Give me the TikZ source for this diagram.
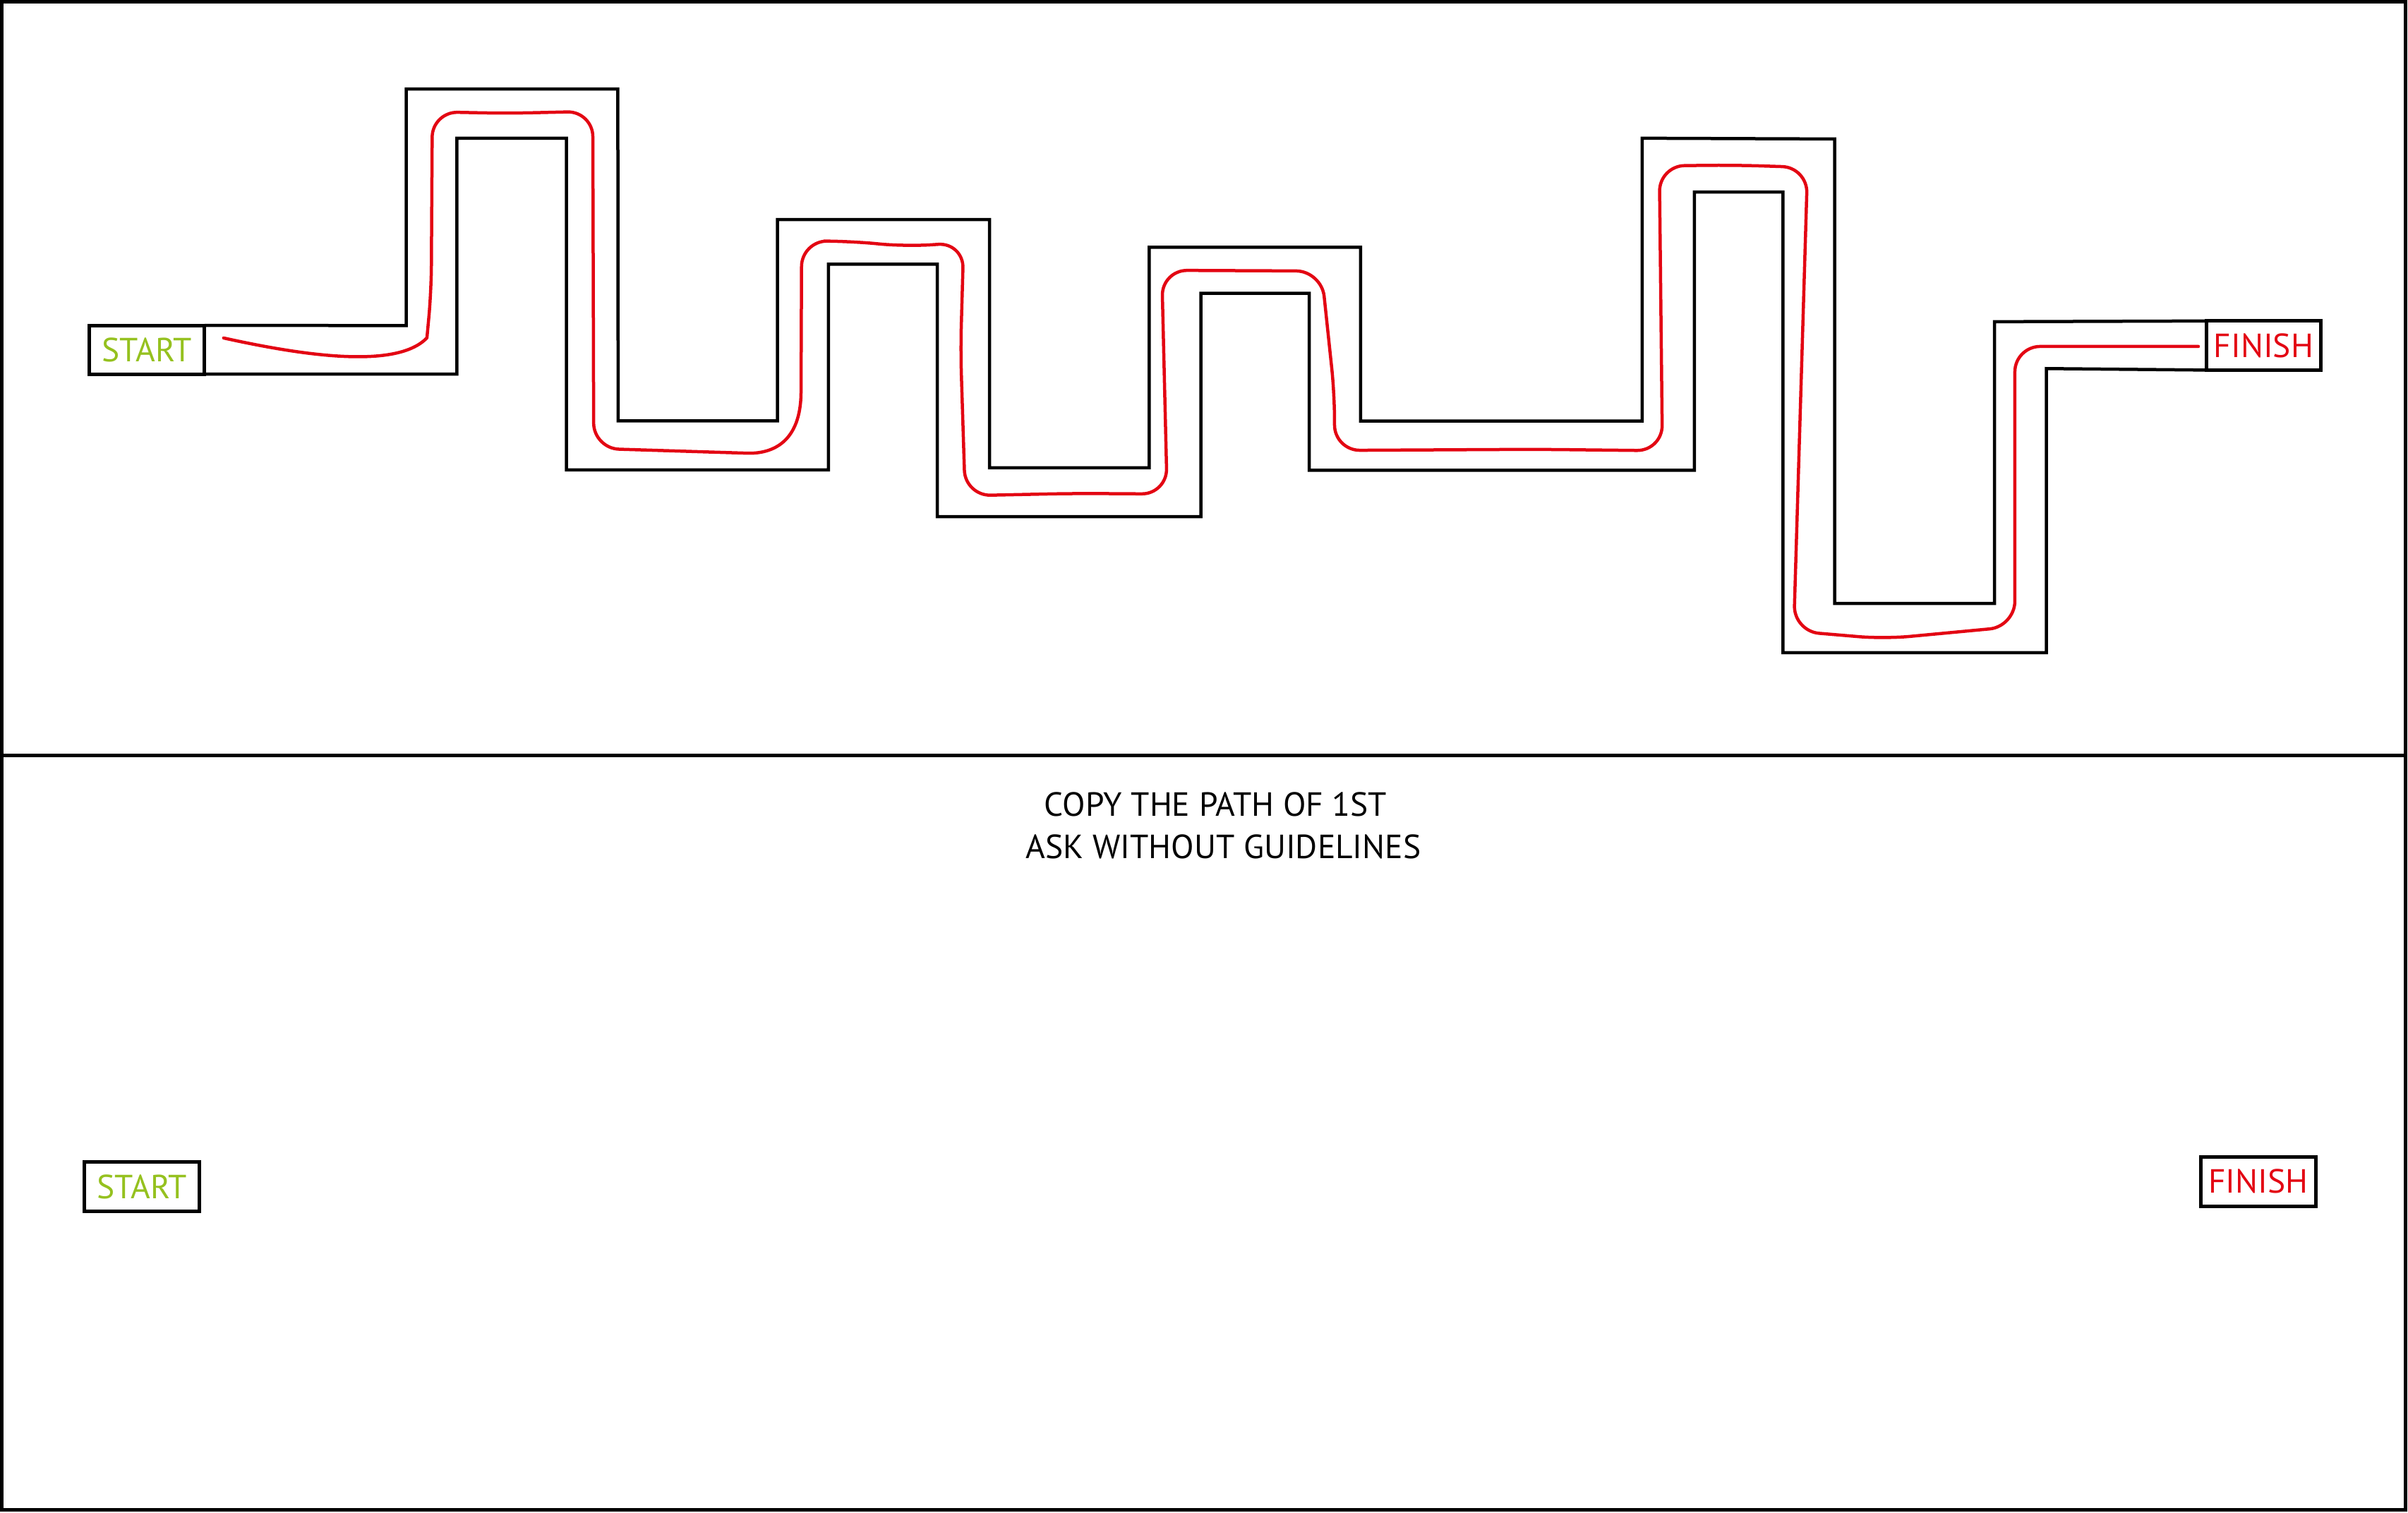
\documentclass[tikz,border=0pt]{standalone}
\usepackage{fontspec}
\setmainfont{PT Sans}
\definecolor{sgreen}{HTML}{95C11F}
\definecolor{pred}{HTML}{E30613}
\begin{document}
\begin{tikzpicture}[x=0.2176mm,y=-0.2176mm,
  wall/.style={line width=0.45mm, line join=miter},
  lbl/.style={draw, line width=0.5mm, inner sep=0pt, outer sep=0pt,
    font=\fontsize{13.5}{16}\selectfont},
  route/.style={pred, line width=0.45mm, line cap=round, line join=round},
  note/.style={anchor=base, inner sep=0pt, font=\fontsize{13.5}{16}\selectfont}]
\useasboundingbox (0,0) rectangle (1568,985);
% frame
\draw[line width=0.5mm] (1.2,1.2) rectangle (1566.3,983.3);
\draw[line width=0.5mm] (1.2,492) -- (1566.3,492);
% top panel boxes
\node[lbl, text=sgreen, minimum width=16.34mm, minimum height=6.9mm] (tstart) at (95.65,227.75) {START};
\node[lbl, text=pred, minimum width=16.25mm, minimum height=6.96mm] (tfinish) at (1474,225) {FINISH};
% walls
\draw[wall] (tstart.north east) -- (264.5,212) -- (264.5,58) -- (402.3,58) -- (402.5,274)
  -- (506.2,274) -- (506.2,143) -- (644.3,143) -- (644.3,304.6) -- (748.3,304.6)
  -- (748.3,161) -- (886,161) -- (886,274.2) -- (1069.3,274.2) -- (1069.3,90)
  -- (1194.7,90.5) -- (1194.7,393) -- (1298.7,393) -- (1298.7,209.5) -- (tfinish.north west);
\draw[wall] (tstart.south east) -- (297.5,243.6) -- (297.5,90) -- (368.8,90) -- (368.8,306)
  -- (539.5,306) -- (539.5,172) -- (610.3,172) -- (610.3,336.4) -- (782,336.4)
  -- (782,191) -- (852.5,191) -- (852.5,306.2) -- (1103.3,306.2) -- (1103.3,125)
  -- (1161,125) -- (1161,425) -- (1332.5,425) -- (1332.5,240) -- (tfinish.south west);
% red route
\draw[route] (145.6,220.1) .. controls (195,231) and (258,241) .. (278,220)
  [rounded corners=3.6mm]
  -- (280.8,190) -- (281.5,72.8) -- (330,73.8) -- (386,72.5) -- (386.6,292)
  -- (470,294.6) [sharp corners] .. controls (503,295.6) and (521.6,288) .. (521.6,255)
  [rounded corners=3.6mm]
  -- (522,157) -- (553,157) -- (590,160.5)
  -- (627.5,158) -- (625.5,228) -- (628.5,322.8) -- (700,321.3) -- (760,321.7)
  -- (756.5,176) -- (860.5,176.5) -- (869,257) -- (869,293.3) -- (1000,292.6)
  -- (1082.5,293.5) -- (1080.5,108) -- (1130,107.5) -- (1177,109) -- (1168,411)
  -- (1227,416) -- (1312,408) -- (1312,225.6) -- (1431.5,225.6);
% bottom panel
\node[note] (l1) at (791.6,531.6) {COPY THE PATH OF 1ST};
\node[note] (l2) at (796.7,559.1) {ASK WITHOUT GUIDELINES};
\node[lbl, text=sgreen, minimum width=16.23mm, minimum height=7.0mm] (bstart) at (92.4,772.8) {START};
\node[lbl, text=pred, minimum width=16.34mm, minimum height=7.03mm] (bfinish) at (1470.5,769.4) {FINISH};
\end{tikzpicture}
\end{document}
